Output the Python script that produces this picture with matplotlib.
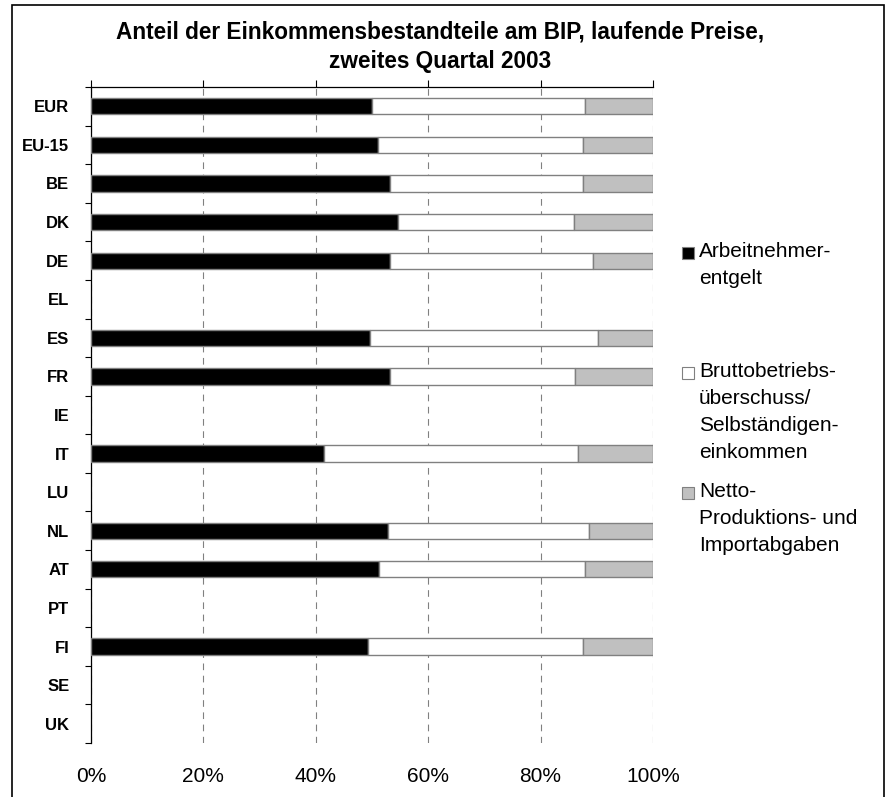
import numpy as np
import matplotlib
matplotlib.use("Agg")
import matplotlib.pyplot as plt
from matplotlib.patches import Rectangle
from matplotlib.ticker import FixedLocator, PercentFormatter

plt.rcParams['font.family'] = ['Liberation Sans', 'DejaVu Sans']

countries = ["EUR", "EU-15", "BE", "DK", "DE", "EL", "ES", "FR", "IE", "IT",
             "LU", "NL", "AT", "PT", "FI", "SE", "UK"]
nan = np.nan
arbeitnehmer = [50.0, 51.1, 53.2, 54.6, 53.2, nan, 49.7, 53.2, nan, 41.4,
                nan, 52.9, 51.3, nan, 49.3, nan, nan]
brutto = [37.9, 36.5, 34.4, 31.3, 36.2, nan, 40.5, 33.0, nan, 45.2,
          nan, 35.8, 36.6, nan, 38.3, nan, nan]
netto = [12.1, 12.4, 12.4, 14.1, 10.6, nan, 9.8, 13.8, nan, 13.4,
         nan, 11.3, 12.1, nan, 12.4, nan, nan]

series_names = ["Arbeitnehmer-\nentgelt",
                "Bruttobetriebs-\nüberschuss/\nSelbständigen-\neinkommen",
                "Netto-\nProduktions- und\nImportabgaben"]
series_colors = ["#000000", "#FFFFFF", "#C0C0C0"]
title = "Anteil der Einkommensbestandteile am BIP, laufende Preise,\nzweites Quartal 2003"
xticks = [0, 20, 40, 60, 80, 100]

W, H = 887, 797
fig = plt.figure(figsize=(W / 100, H / 100), dpi=100)
ax = fig.add_axes([91 / W, 1 - 743 / H, (653 - 91) / W, (743 - 87) / H])

y = np.arange(len(countries))
a = np.array(arbeitnehmer, dtype=float)
b = np.array(brutto, dtype=float)
c = np.array(netto, dtype=float)
valid = ~np.isnan(a)
left = np.zeros(len(countries))
for vals, col in zip([a, b, c], series_colors):
    ax.barh(y[valid], vals[valid], left=left[valid], height=0.42,
            color=col, edgecolor="#808080", linewidth=1.0, zorder=3)
    left = left + np.nan_to_num(vals)

ax.set_xlim(0, 100)
ax.set_ylim(len(countries) - 0.5, -0.5)

# gridlines
ax.xaxis.set_major_locator(FixedLocator(xticks))
ax.xaxis.set_major_formatter(PercentFormatter(decimals=0))
ax.grid(axis='x', color="#808080", linestyle=(0, (6, 5)), linewidth=0.8, zorder=1)
ax.tick_params(axis='x', top=True, bottom=False, labeltop=False, labelbottom=True,
               direction='out', length=5, width=0.8, color='black',
               pad=12, labelsize=15)

ax.set_yticks(y)
ax.set_yticklabels(countries, fontsize=12, fontweight='bold')
ax.set_yticks(np.arange(-0.5, len(countries), 1.0), minor=True)
ax.tick_params(axis='y', which='major', length=0, pad=15.5)
ax.tick_params(axis='y', which='minor', length=4, width=0.8, direction='out')

for s in ['right', 'bottom']:
    ax.spines[s].set_visible(False)
ax.spines['left'].set_linewidth(0.9)
ax.spines['top'].set_linewidth(0.9)

fig.text(440 / W, 1 - 20 / H, title, ha='center', va='top', fontsize=16.3,
         fontweight='bold', linespacing=1.38)

# legend
leg_tops = [250, 370, 490]
for name, col, yc in zip(series_names, series_colors, leg_tops):
    fig.add_artist(Rectangle((682 / W, 1 - (yc + 9) / H), 12 / W, 12 / H,
                             transform=fig.transFigure, facecolor=col,
                             edgecolor="#808080", linewidth=0.8))
    fig.text(699 / W, 1 - (yc - 8) / H, name, ha='left', va='top',
             fontsize=15, linespacing=1.53)

# outer frame
fig.add_artist(Rectangle((12 / W, -0.05), (884 - 12) / W, 1 - 5 / H + 0.05,
                         transform=fig.transFigure, fill=False,
                         edgecolor='black', linewidth=1.2))

fig.savefig("out.png", dpi=100)
